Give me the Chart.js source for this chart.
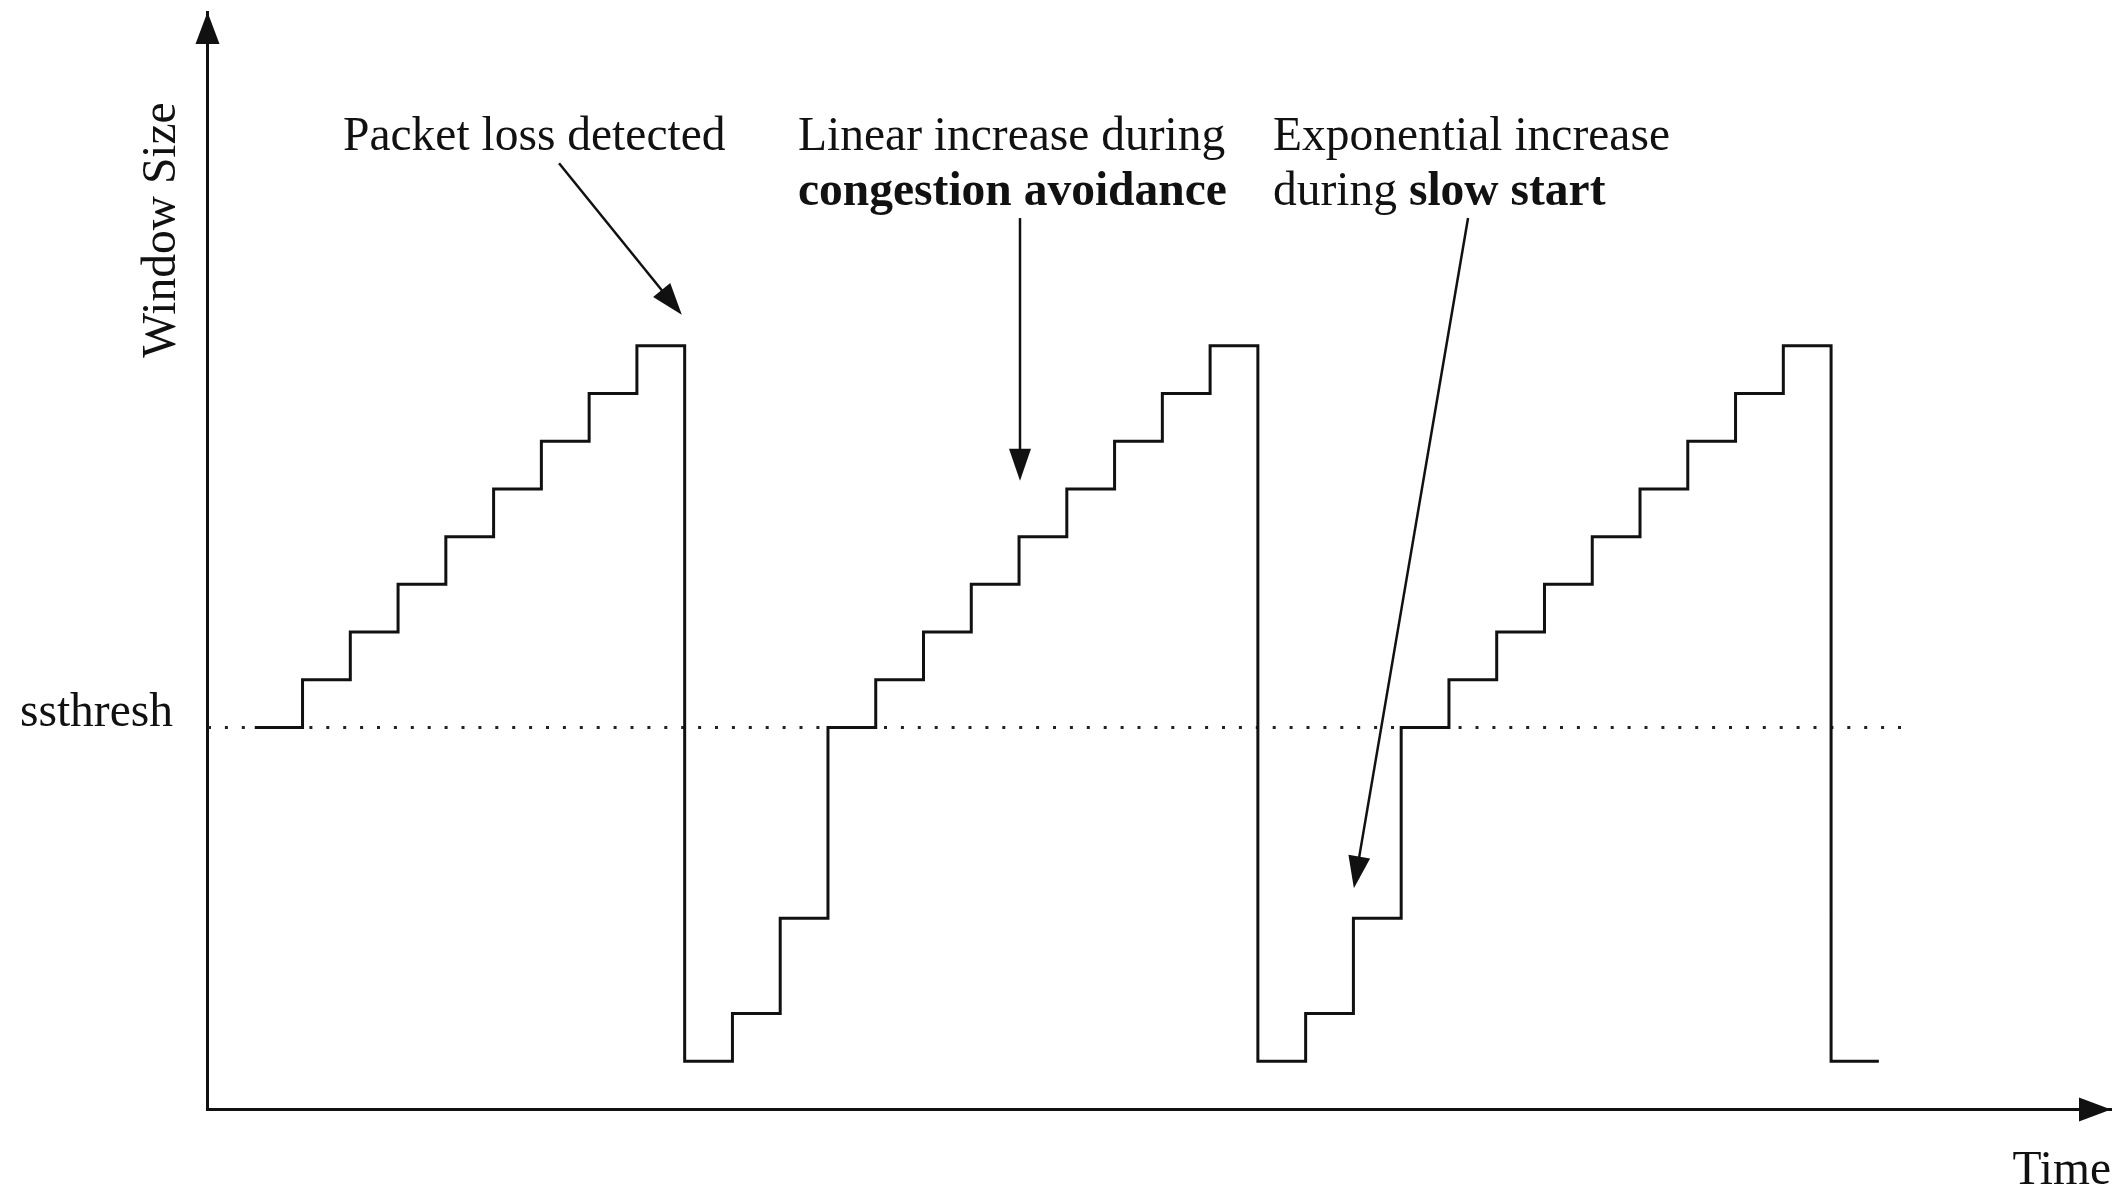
<!DOCTYPE html>
<html lang="en">
<head>
<meta charset="UTF-8">
<title>TCP congestion window</title>
<script src="https://cdn.jsdelivr.net/npm/chart.js@4.4.1/dist/chart.umd.min.js"></script>
<style>
  html, body { margin: 0; padding: 0; background: #fff; }
  canvas { display: block; }
</style>
</head>
<body>
<canvas id="cwndChart" width="2124" height="1196"></canvas>
<script>
// one slot per round trip, window size in segments
const times = [0, 1, 2, 3, 4, 5, 6, 7, 8, 9, 10, 11, 12, 13, 14, 15, 16, 17,
               18, 19, 20, 21, 22, 23, 24, 25, 26, 27, 28, 29, 30, 31, 32, 33, 34];
const windowSizes = [8, 9, 10, 11, 12, 13, 14, 15, 16, 1, 2, 4, 8, 9, 10, 11, 12, 13,
                     14, 15, 16, 1, 2, 4, 8, 9, 10, 11, 12, 13, 14, 15, 16, 1, 1];
const ssthresh = 8;
const ssthreshSpan = [-1, 34.7];
const timeRange = [-1, 38.86];
const sizeRange = [0, 23];

// annotation arrows, data units: [fromTime, fromSize, toTime, toSize]
const noteArrows = [
    [6.37, 19.83, 8.94, 16.65],
    [16.02, 18.68, 16.02, 13.17],
    [25.40, 18.68, 23.01, 4.63]
];

const SERIF = '"Liberation Serif", "Times New Roman", serif';
const INK = '#111';
const FONT_SIZE = 47.5;


const arrowHead = (ctx, x0, y0, x1, y1, len, half) => {
    const a = Math.atan2(y1 - y0, x1 - x0);
    const c = Math.cos(a), s = Math.sin(a);
    ctx.beginPath();
    ctx.moveTo(x1, y1);
    ctx.lineTo(x1 - len * c + half * s, y1 - len * s - half * c);
    ctx.lineTo(x1 - len * c - half * s, y1 - len * s + half * c);
    ctx.closePath();
    ctx.fill();
}


const annotate = {
    id: 'annotate',
    afterDraw(chart) {
        const { ctx, chartArea: area, scales: { x, y } } = chart;
        ctx.save();
        ctx.fillStyle = INK;
        ctx.strokeStyle = INK;

        // axis arrow heads
        arrowHead(ctx, area.left + 0.5, area.bottom, area.left + 0.5, area.top, 32, 12);
        arrowHead(ctx, area.left, area.bottom + 0.5, area.right, area.bottom + 0.5, 32, 12);

        // pointer arrows
        ctx.lineWidth = 2.5;
        noteArrows.forEach(([t0, w0, t1, w1]) => {
            const x0 = x.getPixelForValue(t0), y0 = y.getPixelForValue(w0);
            const x1 = x.getPixelForValue(t1), y1 = y.getPixelForValue(w1);
            const a = Math.atan2(y1 - y0, x1 - x0);
            ctx.beginPath();
            ctx.moveTo(x0, y0);
            ctx.lineTo(x1 - 16 * Math.cos(a), y1 - 16 * Math.sin(a));
            ctx.stroke();
            arrowHead(ctx, x0, y0, x1, y1, 32, 11);
        });

        // notes
        const regular = `${FONT_SIZE}px ${SERIF}`;
        const bold = `bold ${FONT_SIZE}px ${SERIF}`;
        ctx.textBaseline = 'alphabetic';
        ctx.textAlign = 'left';
        ctx.font = regular;
        ctx.fillText('Packet loss detected', 343, 150);
        ctx.fillText('Linear increase during', 798, 150);
        ctx.fillText('Exponential increase', 1273, 150);
        ctx.fillText('during ', 1273, 205);
        const lead = ctx.measureText('during ').width;
        ctx.font = bold;
        ctx.fillText('congestion avoidance', 798, 205);
        ctx.fillText('slow start', 1273 + lead, 205);

        // y axis name
        ctx.font = regular;
        ctx.translate(175, 230);
        ctx.rotate(-Math.PI / 2);
        ctx.textAlign = 'center';
        ctx.fillText('Window Size', 0, 0);
        ctx.restore();
    }
}


new Chart(document.getElementById('cwndChart'), {
    type: 'line',
    data: {
        datasets: [{
            data: times.map((t, i) => ({ x: t, y: windowSizes[i] })),
            stepped: 'before',
            borderColor: INK,
            borderWidth: 3,
            borderJoinStyle: 'miter',
            pointRadius: 0,
            fill: false,
        }, {
            data: ssthreshSpan.map(t => ({ x: t, y: ssthresh })),
            borderColor: '#222',
            borderWidth: 3,
            borderDash: [3, 13.9],
            borderDashOffset: -1,
            borderCapStyle: 'butt',
            pointRadius: 0,
            fill: false,
        }],
    },
    options: {
        responsive: false,
        animation: false,
        events: [],
        layout: { padding: { top: 12, right: 13, bottom: 0, left: 0 } },
        plugins: {
            legend: { display: false },
            tooltip: { enabled: false },
        },
        scales: {
            x: {
                type: 'linear',
                min: timeRange[0],
                max: timeRange[1],
                grid: { display: false, drawTicks: false },
                border: { display: true, color: INK, width: 3 },
                ticks: { display: false },
                title: {
                    display: true,
                    text: 'Time',
                    align: 'end',
                    color: INK,
                    font: { family: SERIF, size: FONT_SIZE, lineHeight: 1 },
                    padding: { top: 0, bottom: 1 },
                },
                afterFit: scale => {
                    scale.height = 87;
                    scale.paddingLeft = scale.paddingRight = 0;
                },
            },
            y: {
                type: 'linear',
                min: sizeRange[0],
                max: sizeRange[1],
                grid: { display: false, drawTicks: false },
                border: { display: true, color: INK, width: 3 },
                afterBuildTicks: scale => { scale.ticks = [{ value: ssthresh }]; },
                ticks: {
                    callback: () => 'ssthresh',
                    color: INK,
                    font: { family: SERIF, size: FONT_SIZE },
                    padding: 34,
                    labelOffset: -14,
                },
                afterFit: scale => {
                    scale.width = 207;
                    scale.paddingTop = scale.paddingBottom = 0;
                },
            },
        },
    },
    plugins: [annotate],
});
</script>
</body>
</html>
